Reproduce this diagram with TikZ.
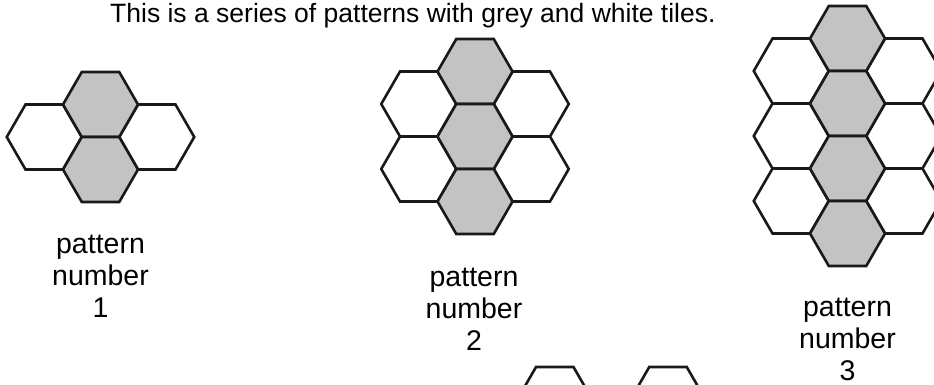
\documentclass[tikz,border=0pt]{standalone}
\usepackage{fontspec}
\setmainfont{Liberation Sans}
\definecolor{tilegrey}{RGB}{195,195,195}
\tikzset{
  hexline/.style={line width=2.6pt, draw=black!90, line join=miter},
  greytile/.style={hexline, fill=tilegrey},
  whitetile/.style={hexline, fill=white},
  titletext/.style={font=\fontsize{26.5}{30}\selectfont, inner sep=0pt},
  labeltext/.style={font=\fontsize{28.5}{32}\selectfont, align=center, inner sep=0pt}
}
\newcommand\hextile[3]{%
  \draw[#1] ($(#2,#3)+(0:37.5)$) -- ($(#2,#3)+(60:37.5)$) -- ($(#2,#3)+(120:37.5)$)
    -- ($(#2,#3)+(180:37.5)$) -- ($(#2,#3)+(240:37.5)$) -- ($(#2,#3)+(300:37.5)$) -- cycle;}
\usetikzlibrary{calc}
\begin{document}
\begin{tikzpicture}[x=1pt,y=-1pt]
\useasboundingbox (0,0) rectangle (934,385);
\clip (0,0) rectangle (934,385);
% title
\node[titletext, anchor=base west] (title) at (110,22.7) {This is a series of patterns with grey and white tiles.};
% pattern 1
\hextile{whitetile}{44.25}{137}
\hextile{whitetile}{156.75}{137}
\hextile{greytile}{100.5}{104.5}
\hextile{greytile}{100.5}{169.5}
\node[labeltext, anchor=base] (label1) at (100.5,317) {pattern\\number\\1};
% pattern 2
\foreach \y in {104,169}{
  \hextile{whitetile}{418.75}{\y}
  \hextile{whitetile}{531.25}{\y}
}
\foreach \y in {71.5,136.5,201.5}{\hextile{greytile}{475}{\y}}
\node[labeltext, anchor=base] (label2) at (474,350.5) {pattern\\number\\2};
% pattern 3
\foreach \y in {71,136,201}{
  \hextile{whitetile}{791.25}{\y}
  \hextile{whitetile}{903.75}{\y}
}
\foreach \y in {38.5,103.5,168.5,233.5}{\hextile{greytile}{847.5}{\y}}
\node[labeltext, anchor=base] (label3) at (847.5,380) {pattern\\number\\3};
% partial tiles at bottom
\hextile{whitetile}{554.75}{399.5}
\hextile{whitetile}{668}{399.5}
\end{tikzpicture}
\end{document}
